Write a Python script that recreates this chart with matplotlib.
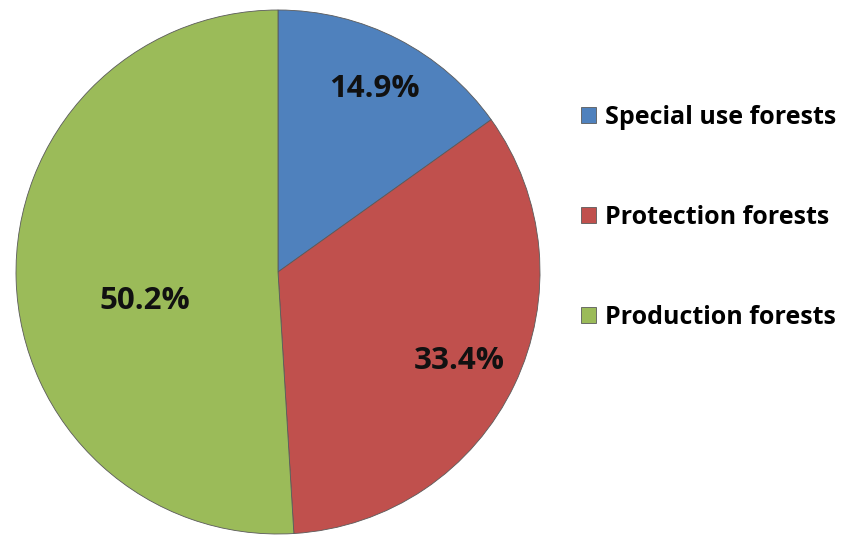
import matplotlib.pyplot as plt

# forest categories and their shares (%)
categories = ['Special use forests', 'Protection forests', 'Production forests']
shares = [14.9, 33.4, 50.2]
pct_labels = ['14.9%', '33.4%', '50.2%']
colors = ['#4F81BD', '#C0504D', '#9BBB59']

fig = plt.figure(figsize=(8.5, 5.39), dpi=100)
ax = fig.add_axes([16 / 850, 5 / 539, 524 / 850, 524 / 539])

wedges, _ = ax.pie(shares, colors=colors, startangle=90, counterclock=False,
                   wedgeprops=dict(edgecolor='#5a5a5a', linewidth=0.6))
ax.set_xlim(-1, 1)
ax.set_ylim(-1, 1)
ax.set_aspect('equal')

# label positions inside the wedges (radius = 1)
label_xy = [(0.37, 0.70), (0.69, -0.34), (-0.51, -0.11)]
for (x, y), txt in zip(label_xy, pct_labels):
    ax.text(x, y, txt, ha='center', va='center', fontsize=22.5,
            fontweight='bold', family='Open Sans', color='#111111')

fig.legend(wedges, categories, loc='upper left', bbox_to_anchor=(571 / 850, 1 - 95 / 539),
           frameon=False, prop=dict(family='Open Sans', weight='bold', size=18),
           handlelength=0.6, handleheight=0.6, handletextpad=0.35,
           labelspacing=3.0, borderaxespad=0)

fig.savefig('out.png', dpi=100)
